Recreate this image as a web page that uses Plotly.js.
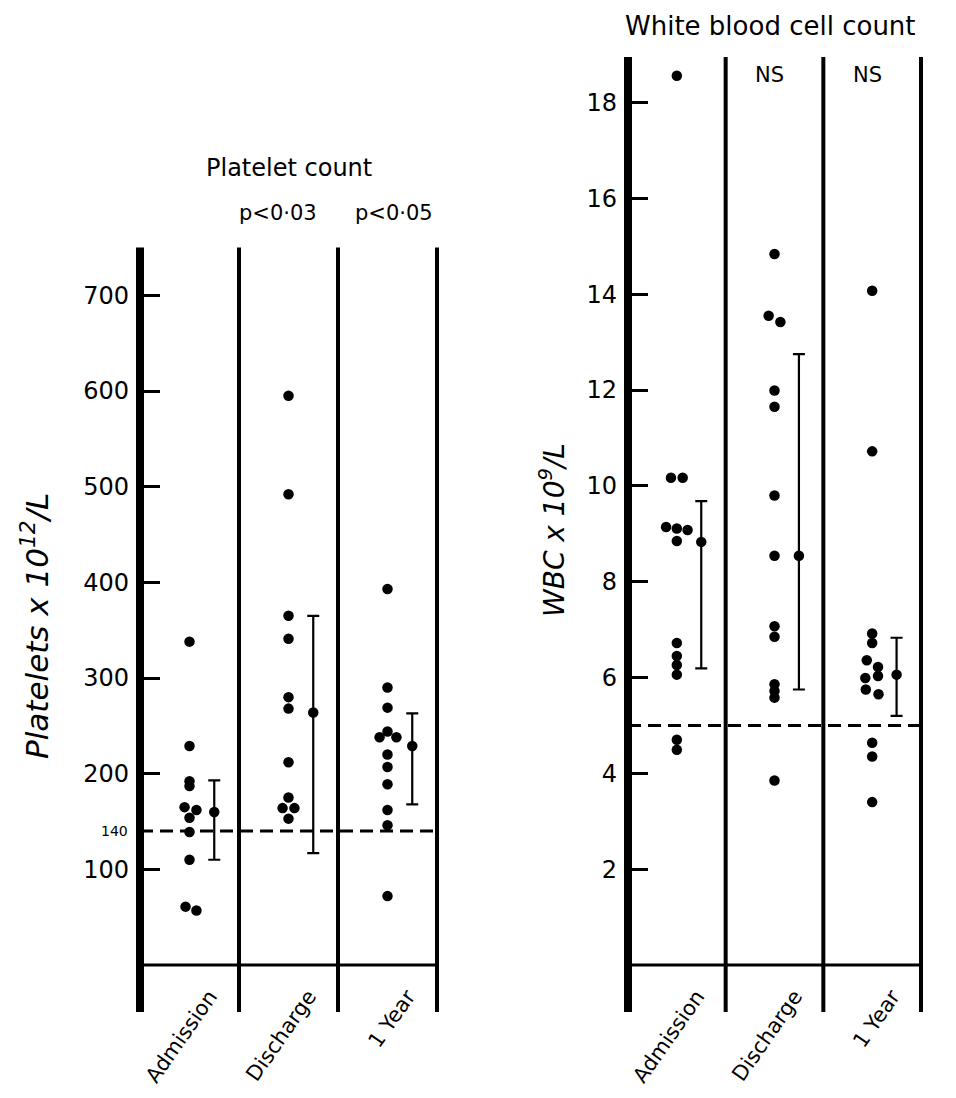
<!DOCTYPE html>
<html>
<head>
<meta charset="utf-8">
<script src="https://cdn.plot.ly/plotly-3.0.1.min.js"></script>
<style>html,body{margin:0;padding:0;background:#fff;}#chart{width:956px;height:1098px;}</style>
</head>
<body>
<div id="chart"></div>
<script>
// ---------- data ----------
const categories = ["Admission", "Discharge", "1 Year"];

const plateletAdmission = [338, 229, 192, 187, 165, 162, 154, 139, 110, 61, 57];
const plateletAdmissionJitter = [0, 0, 0, 0, -0.05, 0.07, 0, 0, 0, -0.04, 0.07];
const plateletDischarge = [595, 492, 365, 341, 280, 268, 212, 175, 164, 164, 153];
const plateletDischargeJitter = [0, 0, 0, 0, 0, 0, 0, 0, -0.06, 0.06, 0];
const plateletYear = [393, 290, 269, 244, 238, 238, 220, 207, 189, 162, 146, 72];
const plateletYearJitter = [0, 0, 0, 0, -0.08, 0.09, 0, 0, 0, 0, 0, 0];
const plateletMean = [160, 264, 229];
const plateletUpper = [193, 365, 263];
const plateletLower = [110, 117, 168];
const plateletLimit = 140;
const plateletTicks = [100, 200, 300, 400, 500, 600, 700];
const plateletPValues = ["", "p<0·03", "p<0·05"];

const wbcAdmission = [18.56, 10.17, 10.17, 9.14, 9.11, 9.08, 8.85, 6.72, 6.45, 6.26, 6.06, 4.70, 4.49];
const wbcAdmissionJitter = [0, -0.06, 0.06, -0.11, 0, 0.11, 0, 0, 0, 0, 0, 0, 0];
const wbcDischarge = [14.84, 13.55, 13.42, 11.99, 11.65, 9.80, 8.54, 7.07, 6.85, 5.86, 5.72, 5.58, 3.85];
const wbcDischargeJitter = [0, -0.06, 0.06, 0, 0, 0, 0, 0, 0, 0, 0, 0, 0];
const wbcYear = [14.07, 10.72, 6.92, 6.72, 6.36, 6.22, 6.03, 5.99, 5.75, 5.65, 4.64, 4.35, 3.40];
const wbcYearJitter = [0, 0, 0, 0, -0.055, 0.06, 0.06, -0.07, -0.065, 0.065, 0, 0, 0];
const wbcMean = [8.83, 8.54, 6.06];
const wbcUpper = [9.68, 12.75, 6.83];
const wbcLower = [6.19, 5.75, 5.20];
const wbcLimit = 5;
const wbcTicks = [2, 4, 6, 8, 10, 12, 14, 16, 18];
const wbcPValues = ["", "NS", "NS"];

// ---------- helpers ----------
const FONT = "'DejaVu Sans', sans-serif";
const MEAN_OFFSET = 0.25;

function dotTrace(idx, vals, jit, xa, ya) {
  return {
    type: "scatter", mode: "markers",
    x: vals.map((v, i) => idx + jit[i]), y: vals,
    xaxis: xa, yaxis: ya,
    marker: {color: "#000", size: 10.5},
    showlegend: false, hoverinfo: "y", cliponaxis: false
  };
}
function meanTrace(mean, upper, lower, xa, ya) {
  return {
    type: "scatter", mode: "markers",
    x: mean.map((v, i) => i + MEAN_OFFSET), y: mean,
    xaxis: xa, yaxis: ya,
    marker: {color: "#000", size: 10.5},
    error_y: {type: "data", symmetric: false,
      array: upper.map((u, i) => u - mean[i]),
      arrayminus: lower.map((l, i) => mean[i] - l),
      color: "#000", thickness: 2.2, width: 6},
    showlegend: false, hoverinfo: "y", cliponaxis: false
  };
}

const W = 956, H = 1098;
const py = p => (H - p) / H;   // pixel row -> paper y
const px = p => p / W;         // pixel col -> paper x

const bottomPx = 965, extPx = 1012;
const leftDom = [px(140), px(437)], rightDom = [px(628), px(921)];
const leftTop = py(247.5), rightTop = py(57);

const traces = [
  dotTrace(0, plateletAdmission, plateletAdmissionJitter, "x", "y"),
  dotTrace(1, plateletDischarge, plateletDischargeJitter, "x", "y"),
  dotTrace(2, plateletYear, plateletYearJitter, "x", "y"),
  meanTrace(plateletMean, plateletUpper, plateletLower, "x", "y"),
  dotTrace(0, wbcAdmission, wbcAdmissionJitter, "x2", "y2"),
  dotTrace(1, wbcDischarge, wbcDischargeJitter, "x2", "y2"),
  dotTrace(2, wbcYear, wbcYearJitter, "x2", "y2"),
  meanTrace(wbcMean, wbcUpper, wbcLower, "x2", "y2")
];

const n = categories.length;
const shapes = [];
function frame(dom, yref, topPaper, limit) {
  // category boundaries converted to paper coordinates (no clipping)
  for (let i = 0; i <= n; i++) {
    const xp = dom[0] + (dom[1] - dom[0]) * i / n;
    shapes.push({type: "line", xref: "paper", yref: "paper",
      x0: xp, x1: xp, y0: py(extPx), y1: topPaper,
      line: {color: "#000", width: i === 0 ? 8 : 4}});
  }
  shapes.push({type: "line", xref: "paper", yref: "paper",
    x0: dom[0], x1: dom[1], y0: py(bottomPx), y1: py(bottomPx),
    line: {color: "#000", width: 3}});
  shapes.push({type: "line", xref: "paper", yref: yref,
    x0: dom[0], x1: dom[1], y0: limit, y1: limit,
    line: {color: "#000", width: 3, dash: "13px,7px"}});
}
frame(leftDom, "y", leftTop, plateletLimit);
frame(rightDom, "y2", rightTop, wbcLimit);

const ann = (o) => Object.assign({showarrow: false, xanchor: "center", yanchor: "middle"}, o);
const annotations = [
  ann({text: "Platelet count", xref: "paper", yref: "paper", x: px(289), y: py(168),
   font: {size: 24, family: FONT, color: "#000"}}),
  ann({text: "White blood cell count", xref: "paper", yref: "paper", x: px(770), y: py(26),
   font: {size: 26, family: FONT, color: "#000"}}),
  ann({text: "<i>Platelets x 10<sup>12</sup>/L</i>", xref: "paper", yref: "paper",
   x: px(35), y: py(626), textangle: -90,
   font: {size: 31, family: FONT, color: "#000"}}),
  ann({text: "<i>WBC x 10<sup>9</sup>/L</i>", xref: "paper", yref: "paper",
   x: px(552), y: py(530), textangle: -90,
   font: {size: 28, family: FONT, color: "#000"}}),
  ann({text: String(plateletLimit), xref: "paper", yref: "y", x: px(130), y: plateletLimit,
   xanchor: "right", font: {size: 14, family: FONT, color: "#000"}})
];
plateletPValues.forEach((t, i) => {
  if (t) annotations.push(ann({text: t, xref: "x", yref: "paper", x: i, y: py(213),
    xshift: i === 1 ? -11 : 6, font: {size: 21, family: FONT, color: "#000"}}));
});
wbcPValues.forEach((t, i) => {
  if (t) annotations.push(ann({text: t, xref: "x2", yref: "paper", x: i, y: py(75),
    xshift: -5, font: {size: 21, family: FONT, color: "#000"}}));
});

const xCommon = {
  range: [-0.5, n - 0.5], tickvals: categories.map((c, i) => i), ticktext: categories,
  tickangle: -55, ticks: "", showline: false, showgrid: false, zeroline: false,
  tickfont: {size: 21, family: FONT, color: "#000"},
  ticklabelshift: 20, ticklabelstandoff: 14, fixedrange: true
};
const yCommon = {
  ticks: "inside", ticklen: 20, tickwidth: 3, tickcolor: "#000",
  showline: false, showgrid: false, zeroline: false,
  tickfont: {size: 24, family: FONT, color: "#000"}, ticklabelstandoff: 10, fixedrange: true
};

const layout = {
  width: W, height: H,
  margin: {l: 0, r: 0, t: 0, b: 0},
  paper_bgcolor: "#fff", plot_bgcolor: "rgba(0,0,0,0)",
  showlegend: false,
  xaxis: Object.assign({}, xCommon, {domain: leftDom, anchor: "y"}),
  yaxis: Object.assign({}, yCommon, {domain: [py(bottomPx), leftTop], range: [0, 750],
    tickvals: plateletTicks, anchor: "x"}),
  xaxis2: Object.assign({}, xCommon, {domain: rightDom, anchor: "y2"}),
  yaxis2: Object.assign({}, yCommon, {domain: [py(bottomPx), rightTop], range: [0, 18.95],
    tickvals: wbcTicks, anchor: "x2"}),
  shapes: shapes,
  annotations: annotations,
  font: {family: FONT, color: "#000"}
};

Plotly.newPlot("chart", traces, layout, {displayModeBar: false, staticPlot: true});
</script>
</body>
</html>
